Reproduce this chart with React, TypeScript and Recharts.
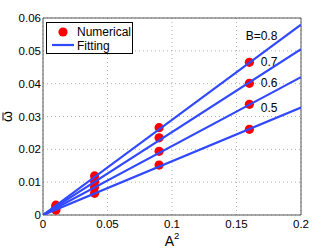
import {
  ComposedChart,
  Scatter,
  XAxis,
  YAxis,
  CartesianGrid,
  ReferenceArea,
  Label,
} from "recharts";

// A^2 values where the numerical results were computed
const aSquared = [0.01, 0.04, 0.09, 0.16];

// numerical results for each B
const numB08 = [0.003, 0.0119, 0.0266, 0.0465];
const numB07 = [0.0025, 0.0102, 0.0235, 0.0401];
const numB06 = [0.002, 0.0085, 0.0194, 0.0337];
const numB05 = [0.0015, 0.0066, 0.0152, 0.0261];

// fitted straight lines
const fitX = [0, 0.2];
const fitB08 = [0, 0.058];
const fitB07 = [0, 0.0505];
const fitB06 = [0, 0.042];
const fitB05 = [0, 0.0327];

const bLabels = ["B=0.8", "0.7", "0.6", "0.5"];

const xTicks = [0, 0.05, 0.1, 0.15, 0.2];
const yTicks = [0, 0.01, 0.02, 0.03, 0.04, 0.05, 0.06];

const numerical = [numB08, numB07, numB06, numB05];
const fitting = [fitB08, fitB07, fitB06, fitB05];

const FONT = "'Liberation Sans', Arial, sans-serif";
const BLUE = "#3048ff";
const RED = "#ff0000";

const toRows = (xs: number[], ys: number[]) => xs.map((x, i) => ({ x, y: ys[i] }));

const lastA = aSquared[aSquared.length - 1];

const makeDot = (label: string, first: boolean) => (props: any) => {
  const { cx, cy, payload } = props;
  return (
    <g>
      <circle cx={cx} cy={cy} r={4.6} fill={RED} />
      {payload && payload.x === lastA && (
        <text
          x={cx + 28}
          y={cy + (first ? -22 : -17)}
          textAnchor="end"
          fontSize={12}
          fontFamily={FONT}
          fill="#000"
        >
          {label}
        </text>
      )}
    </g>
  );
};

const App = () => {
  return (
    <div style={{ position: "absolute", left: 0, top: 0, width: 332, height: 252, background: "#fff" }}>
      <ComposedChart
        width={332}
        height={252}
        margin={{ top: 18, right: 31, left: 0, bottom: 0 }}
      >
        <CartesianGrid stroke="#b0b0b0" strokeDasharray="1 3" />
        <XAxis
          type="number"
          dataKey="x"
          domain={[0, 0.2]}
          ticks={xTicks}
          height={37}
          tickLine={false}
          tickSize={0}
          axisLine={false}
          tickMargin={5}
          tick={{ fill: "#000", fontSize: 11.5, fontFamily: FONT }}
          allowDataOverflow
        >
          <Label
            content={(p: any) => {
              const vb = p.viewBox;
              return (
                <text
                  x={vb.x + vb.width / 2}
                  y={vb.y + 31}
                  textAnchor="middle"
                  fontSize={14}
                  fontFamily={FONT}
                  fill="#000"
                >
                  A<tspan dy={-7} fontSize={9.5}>2</tspan>
                </text>
              );
            }}
          />
        </XAxis>
        <YAxis
          type="number"
          domain={[0, 0.06]}
          ticks={yTicks}
          width={43}
          tickLine={false}
          tickSize={0}
          axisLine={false}
          tickMargin={2}
          tick={{ fill: "#000", fontSize: 11.5, fontFamily: FONT }}
          allowDataOverflow
        >
          <Label
            content={(p: any) => {
              const vb = p.viewBox;
              const cy = vb.y + vb.height / 2;
              return (
                <g transform={`translate(9, ${cy}) rotate(-90)`}>
                  <text
                    x={0}
                    y={3}
                    textAnchor="middle"
                    fontSize={14}
                    fontFamily={FONT}
                    fill="#000"
                  >
                    ω
                  </text>
                  <line x1={-4} y1={-6} x2={4} y2={-6} stroke="#000" strokeWidth={1} />
                </g>
              );
            }}
          />
        </YAxis>
        <ReferenceArea
          x1={0}
          x2={0.2}
          y1={0}
          y2={0.06}
          fill="none"
          stroke="#555"
          strokeWidth={1}
          ifOverflow="visible"
        />
        {numerical.map((ys, i) => (
          <Scatter
            key={`num-${i}`}
            data={toRows(aSquared, ys)}
            dataKey="y"
            shape={makeDot(bLabels[i], i === 0)}
            isAnimationActive={false}
          />
        ))}
        {fitting.map((ys, i) => (
          <Scatter
            key={`fit-${i}`}
            data={toRows(fitX, ys)}
            dataKey="y"
            line={{ stroke: BLUE, strokeWidth: 2.2 }}
            lineType="joint"
            shape={() => <g />}
            isAnimationActive={false}
          />
        ))}
      </ComposedChart>
      {/* Legend box */}
      <div
        style={{
          position: "absolute",
          left: 46,
          top: 22,
          width: 85,
          height: 30,
          border: "1px solid #000",
          background: "#fff",
          fontFamily: FONT,
          fontSize: 12,
          color: "#000",
        }}
      >
        <svg width={85} height={30} style={{ position: "absolute", left: 0, top: 0 }}>
          <circle cx={16} cy={9} r={4.6} fill={RED} />
          <line x1={5} y1={22} x2={27} y2={22} stroke={BLUE} strokeWidth={2.2} />
          <text x={30} y={13} fontSize={12} fontFamily={FONT} fill="#000">
            Numerical
          </text>
          <text x={30} y={27} fontSize={12} fontFamily={FONT} fill="#000">
            Fitting
          </text>
        </svg>
      </div>
    </div>
  );
};

export default App;
